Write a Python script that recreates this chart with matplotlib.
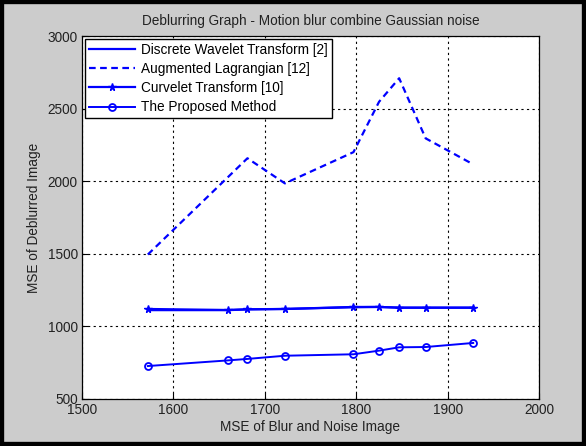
import matplotlib
matplotlib.use("Agg")
import matplotlib.pyplot as plt
from matplotlib.patches import Rectangle

plt.rcParams['font.family'] = ['Liberation Sans', 'DejaVu Sans']

# MSE of blur and noise image (x axis)
mse_noisy = [1572, 1660, 1681, 1722, 1797, 1825, 1847, 1876, 1928]

# MSE of deblurred image for each method
dwt = [1112, 1112, 1117, 1120, 1132, 1134, 1129, 1129, 1129]
aug_lagrangian = [1495, 2030, 2158, 1985, 2200, 2547, 2709, 2295, 2116]
curvelet = [1120, 1113, 1118, 1120, 1134, 1134, 1129, 1129, 1129]
proposed = [727, 766, 776, 798, 808, 833, 856, 858, 886]

labels = ['Discrete Wavelet Transform [2]', 'Augmented Lagrangian [12]',
          'Curvelet Transform [10]', 'The Proposed Method']

xticks = [1500, 1600, 1700, 1800, 1900, 2000]
yticks = [500, 1000, 1500, 2000, 2500, 3000]

W, H = 586, 446
fs = 9.8
fig = plt.figure(figsize=(W / 100, H / 100), dpi=100)
fig.patch.set_facecolor('#cccccc')
# black frame round the figure
fig.patches.append(Rectangle((0, 0), 1, 1, transform=fig.transFigure,
                             fill=False, edgecolor='black', linewidth=6))

ax = fig.add_axes([82 / W, 1 - 399 / H, 457 / W, 363 / H])
ax.set_facecolor('white')

blue = '#0000ff'
ax.plot(mse_noisy, dwt, '-', color=blue, lw=1.6, label=labels[0])
ax.plot(mse_noisy, aug_lagrangian, '--', color=blue, lw=1.6,
        dashes=(3, 2), label=labels[1])
ax.plot(mse_noisy, curvelet, '-', color=blue, lw=1.6, marker='*',
        ms=5.5, label=labels[2])
ax.plot(mse_noisy, proposed, '-', color=blue, lw=1.4, marker='o',
        ms=5, mfc='none', mew=1.3, label=labels[3])

ax.set_xlim(1500, 2000)
ax.set_ylim(500, 3000)
ax.set_xticks(xticks)
ax.set_yticks(yticks)
ax.grid(True, color='black', linestyle=(0, (2, 3)), linewidth=0.8)
ax.tick_params(direction='in', length=4, labelsize=fs, colors='black',
               labelcolor='#222222', pad=3)
for sp in ax.spines.values():
    sp.set_linewidth(0.9)

ax.set_title('Deblurring Graph - Motion blur combine Gaussian noise',
             fontsize=fs, color='#222222', pad=8)
ax.set_xlabel('MSE of Blur and Noise Image', fontsize=fs, color='#222222',
              labelpad=2)
ax.set_ylabel('MSE of Deblurred Image', fontsize=fs, color='#222222',
              labelpad=5)

leg = ax.legend(loc='upper left', fontsize=fs, frameon=True, fancybox=False,
                borderaxespad=0.2, handlelength=3.4, handletextpad=0.45,
                labelspacing=0.38, borderpad=0.3)
leg.get_frame().set_edgecolor('black')
leg.get_frame().set_linewidth(1.0)
leg.get_frame().set_alpha(1)

fig.savefig('out.png', dpi=100, facecolor=fig.get_facecolor())
